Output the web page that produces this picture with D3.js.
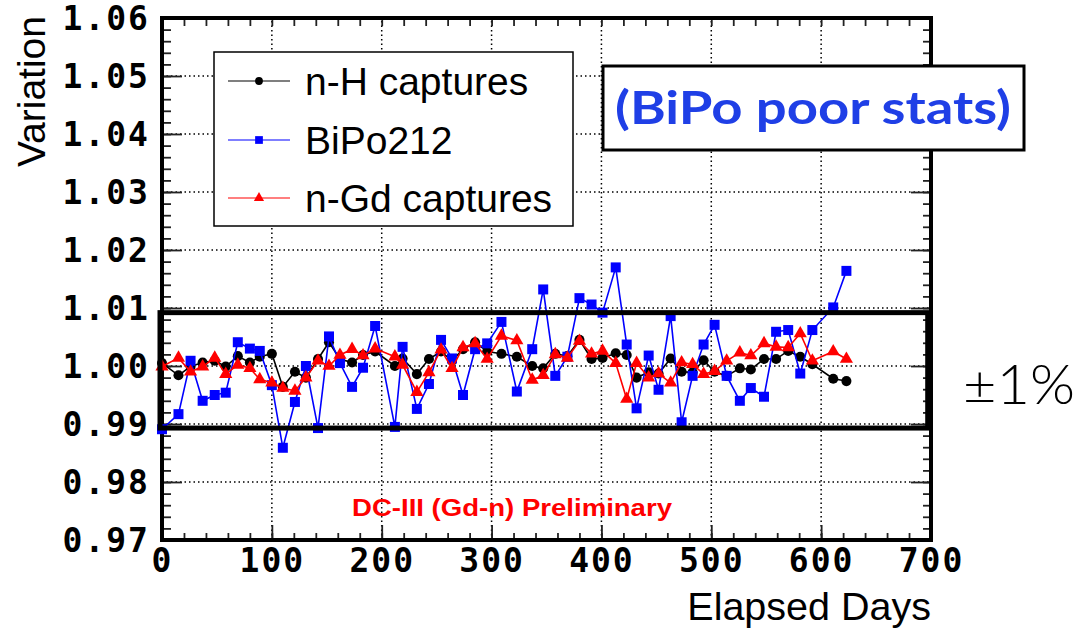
<!DOCTYPE html>
<html>
<head>
<meta charset="utf-8">
<script src="https://cdn.jsdelivr.net/npm/d3@7"></script>
<style>
  body { margin: 0; background: #fff; }
  svg { display: block; }
</style>
</head>
<body>
<div id="chart"></div>
<script>
// elapsed days of each run period
const days = [0, 15, 26, 37, 48, 58, 69, 80, 89, 100, 110, 121, 131, 142, 152, 162, 173, 183, 194, 212,
  219, 232, 243, 254, 264, 274, 285, 296, 309, 323, 337, 347, 358, 369, 380, 391, 401, 413, 423, 432,
  443, 452, 463, 473, 483, 493, 503, 514, 526, 536, 548, 559, 570, 581, 592, 611, 623];

const nH = [1.0005, 0.9984, 0.9999, 1.0006, 1.0009, 0.9999, 1.0017, 1.0006, 1.0016, 1.0021, 0.9964, 0.9990,
  0.9980, 1.0012, 1.0041, 1.0012, 1.0006, 1.0019, 1.0025, 1.0000, 1.0013, 0.9986, 1.0012, 1.0025, 1.0009,
  1.0029, 1.0041, 1.0025, 1.0021, 1.0016, 1.0000, 0.9996, 1.0021, 1.0017, 1.0045, 1.0012, 1.0014, 1.0022,
  1.0019, 0.9980, 0.9989, 0.9987, 1.0013, 0.9990, 0.9989, 1.0010, 0.9990, 0.9983, 0.9996, 0.9994, 1.0012,
  1.0012, 1.0026, 1.0016, 1.0003, 0.9978, 0.9974];

const bipo = [0.9891, 0.9917, 1.0009, 0.9940, 0.9950, 0.9954, 1.0041, 1.0030, 1.0026, 0.9967, 0.9859, 0.9938,
  1.0000, 0.9893, 1.0051, 1.0005, 0.9964, 0.9997, 1.0069, 0.9895, 1.0033, 0.9926, 0.9969, 1.0045, 1.0013,
  0.9950, 1.0029, 1.0039, 1.0076, 0.9956, 1.0029, 1.0132, 0.9983, 1.0016, 1.0117, 1.0106, 1.0092, 1.0170,
  1.0037, 0.9927, 1.0018, 0.9959, 1.0086, 0.9903, 0.9983, 1.0037, 1.0071, 0.9983, 0.9940, 0.9962, 0.9947,
  1.0059, 1.0062, 0.9987, 1.0062, 1.0101, 1.0164];

const nGd = [0.9999, 1.0014, 0.9990, 0.9999, 1.0014, 0.9986, 1.0002, 0.9996, 0.9977, 0.9971, 0.9962, 0.9957,
  0.9980, 1.0009, 1.0000, 1.0019, 1.0029, 1.0018, 1.0030, 1.0016, 1.0002, 0.9955, 0.9989, 1.0028, 0.9996,
  1.0032, 1.0039, 1.0012, 1.0052, 1.0044, 0.9976, 0.9984, 1.0020, 1.0014, 1.0043, 1.0021, 1.0026, 1.0005,
  0.9943, 1.0005, 0.9980, 0.9987, 0.9971, 1.0006, 1.0003, 0.9986, 0.9991, 1.0009, 1.0023, 1.0018, 1.0039,
  1.0033, 1.0032, 1.0056, 1.0009, 1.0025, 1.0012];

const xTicks = [0, 100, 200, 300, 400, 500, 600, 700];
const yTicks = [0.97, 0.98, 0.99, 1.00, 1.01, 1.02, 1.03, 1.04, 1.05, 1.06];
const bandLimits = [0.9893, 1.0092];

const series = [
  {name: 'n-H captures', values: nH, color: '#000000', symbol: d3.symbolCircle, size: 80},
  {name: 'BiPo212', values: bipo, color: '#0000ff', symbol: d3.symbolSquare, size: 100},
  {name: 'n-Gd captures', values: nGd, color: '#ff0000', symbol: d3.symbolTriangle, size: 75}
];

const width = 1083, height = 631;
const margin = {top: 18, right: 152, bottom: 91, left: 162};

const svg = d3.select('#chart').append('svg')
  .attr('width', width)
  .attr('height', height);

const x = d3.scaleLinear().domain([0, 700]).range([margin.left, width - margin.right]);
const y = d3.scaleLinear().domain([0.97, 1.06]).range([height - margin.bottom, margin.top]);

const x0 = x.range()[0], x1 = x.range()[1];
const y0 = y.range()[0], y1 = y.range()[1];

// dotted grid
const grid = svg.append('g')
  .attr('stroke', '#000')
  .attr('stroke-width', 1.5)
  .attr('stroke-dasharray', '1.5,3');
grid.selectAll('.gx')
  .data(xTicks.slice(1, -1))
  .join('line')
    .attr('x1', d => x(d)).attr('x2', d => x(d))
    .attr('y1', y0).attr('y2', y1);
grid.selectAll('.gy')
  .data(yTicks.slice(1, -1))
  .join('line')
    .attr('y1', d => y(d)).attr('y2', d => y(d))
    .attr('x1', x0).attr('x2', x1);

// minor ticks every 20 days / 0.002
const xMinor = d3.range(0, 701, 20);
const yMinor = d3.range(0, 46).map(i => 0.97 + i * 0.002);

function styleAxis(g) {
  g.select('.domain').remove();
  g.selectAll('.tick line').attr('stroke', '#222').attr('stroke-width', 1.8);
}

svg.append('g')
  .attr('transform', `translate(0,${y0})`)
  .call(d3.axisBottom(x).tickValues(xMinor).tickSize(-7).tickFormat(''))
  .call(styleAxis);
svg.append('g')
  .attr('transform', `translate(0,${y1})`)
  .call(d3.axisTop(x).tickValues(xMinor).tickSize(-8).tickFormat(''))
  .call(styleAxis);
svg.append('g')
  .attr('transform', `translate(${x0},0)`)
  .call(d3.axisLeft(y).tickValues(yMinor).tickSize(-9).tickFormat(''))
  .call(styleAxis);
svg.append('g')
  .attr('transform', `translate(${x1},0)`)
  .call(d3.axisRight(y).tickValues(yMinor).tickSize(-8).tickFormat(''))
  .call(styleAxis);

// major ticks with labels
const xAxis = svg.append('g')
  .attr('transform', `translate(0,${y0})`)
  .call(d3.axisBottom(x).tickValues(xTicks).tickSize(-15).tickPadding(8).tickFormat(d3.format('d')))
  .call(styleAxis);
const yAxis = svg.append('g')
  .attr('transform', `translate(${x0},0)`)
  .call(d3.axisLeft(y).tickValues(yTicks).tickSize(-20).tickPadding(12).tickFormat(d3.format('.2f')))
  .call(styleAxis);
svg.append('g')
  .attr('transform', `translate(${x1},0)`)
  .call(d3.axisRight(y).tickValues(yTicks).tickSize(-20).tickFormat(''))
  .call(styleAxis);

[xAxis, yAxis].forEach(g => g.selectAll('.tick text')
  .attr('fill', '#000')
  .style('font-family', '"DejaVu Sans Mono", monospace')
  .style('font-weight', 'bold')
  .style('font-size', '33px')
  .style('letter-spacing', '2px'));
xAxis.selectAll('.tick text').attr('dy', '0.72em');
yAxis.selectAll('.tick text').attr('dy', '0.36em');

// frame
svg.append('rect')
  .attr('x', x0).attr('y', y1)
  .attr('width', x1 - x0).attr('height', y0 - y1)
  .attr('fill', 'none')
  .attr('stroke', '#000')
  .attr('stroke-width', 4);

// axis titles
svg.append('text')
  .attr('x', x1).attr('y', 620)
  .attr('text-anchor', 'end')
  .style('font-family', '"Liberation Sans", Arial, sans-serif')
  .style('font-size', '39.5px')
  .text('Elapsed Days');
svg.append('text')
  .attr('transform', `translate(45,${y1 - 2}) rotate(-90)`)
  .attr('text-anchor', 'end')
  .style('font-family', '"Liberation Sans", Arial, sans-serif')
  .style('font-size', '39px')
  .text('Variation');

// data series
series.forEach(s => {
  const pts = days.map((d, i) => [d, s.values[i]]);
  svg.append('path')
    .datum(pts)
    .attr('fill', 'none')
    .attr('stroke', s.color)
    .attr('stroke-width', 1.6)
    .attr('d', d3.line().x(d => x(d[0])).y(d => y(d[1])));
  svg.append('g')
    .selectAll('path')
    .data(pts)
    .join('path')
      .attr('transform', d => `translate(${x(d[0])},${y(d[1])})`)
      .attr('d', d3.symbol(s.symbol, s.size))
      .attr('fill', s.color);
});

// +-1% band
svg.append('rect')
  .attr('x', x(0) - 2).attr('y', y(bandLimits[1]))
  .attr('width', x(697) - x(0) + 2)
  .attr('height', y(bandLimits[0]) - y(bandLimits[1]))
  .attr('fill', 'none')
  .attr('stroke', '#000')
  .attr('stroke-width', 5);

svg.append('text')
  .attr('x', 963).attr('y', 404)
  .attr('textLength', 112)
  .attr('lengthAdjust', 'spacingAndGlyphs')
  .style('font-family', 'Lato, "Open Sans", sans-serif')
  .style('font-weight', 300)
  .style('font-size', '56px')
  .text('±1%');

// preliminary label
svg.append('text')
  .attr('x', 352).attr('y', 516)
  .attr('fill', '#ff0000')
  .attr('textLength', 320)
  .attr('lengthAdjust', 'spacingAndGlyphs')
  .style('font-family', '"Liberation Sans", Arial, sans-serif')
  .style('font-weight', 'bold')
  .style('font-size', '24px')
  .text('DC-III (Gd-n) Preliminary');

// legend
const legend = svg.append('g');
legend.append('rect')
  .attr('x', 214).attr('y', 52)
  .attr('width', 359).attr('height', 174)
  .attr('fill', '#fff')
  .attr('stroke', '#000')
  .attr('stroke-width', 1.5);
const rowY = [81, 140, 198];
series.forEach((s, i) => {
  legend.append('line')
    .attr('x1', 228).attr('x2', 290)
    .attr('y1', rowY[i]).attr('y2', rowY[i])
    .attr('stroke', s.color)
    .attr('stroke-width', 1.2);
  legend.append('path')
    .attr('transform', `translate(259,${rowY[i]})`)
    .attr('d', d3.symbol(s.symbol, s.size * 0.6))
    .attr('fill', s.color);
  legend.append('text')
    .attr('x', 305).attr('y', rowY[i])
    .attr('dy', '0.36em')
    .style('font-family', '"Liberation Sans", Arial, sans-serif')
    .style('font-size', '39px')
    .text(s.name);
});

// note box
svg.append('rect')
  .attr('x', 603).attr('y', 66)
  .attr('width', 421).attr('height', 84)
  .attr('fill', '#fff')
  .attr('stroke', '#000')
  .attr('stroke-width', 3);
svg.append('text')
  .attr('x', 615).attr('y', 124)
  .attr('fill', '#1f3fe6')
  .attr('textLength', 396)
  .attr('lengthAdjust', 'spacingAndGlyphs')
  .style('font-family', 'Lato, "Open Sans", sans-serif')
  .style('font-weight', 'bold')
  .style('font-size', '46px')
  .text('(BiPo poor stats)');
</script>
</body>
</html>
